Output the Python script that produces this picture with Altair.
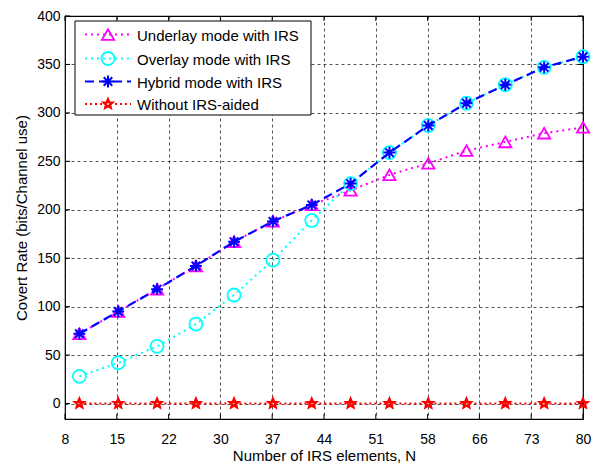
import math
import altair as alt
import pandas as pd

# ---- data ----
n_elements = [10, 15.4, 20.8, 26.2, 31.5, 36.9, 42.3, 47.7, 53.1, 58.5, 63.8, 69.2, 74.6, 80]
underlay = [72, 95, 118, 142, 167, 188, 205, 220, 236, 248, 261, 270, 279, 285]
overlay = [28, 42, 59, 82, 112, 148, 189, 227, 259, 287, 310, 329, 347, 358]
hybrid = [72, 95, 118, 142, 167, 188, 205, 227, 259, 287, 310, 329, 347, 358]
without_irs = [0, 0, 0, 0, 0, 0, 0, 0, 0, 0, 0, 0, 0, 0]

series_names = ["Underlay mode with IRS", "Overlay mode with IRS",
                "Hybrid mode with IRS", "Without IRS-aided"]
x_tick_values = [8, 15.2, 22.4, 29.6, 36.8, 44, 51.2, 58.4, 65.6, 72.8, 80]
y_tick_values = [0, 50, 100, 150, 200, 250, 300, 350, 400]

FONT = "Liberation Sans"
W, H = 518, 403
TL = 5  # inward tick length

# marker shapes
asterisk = "M-1,0L1,0M0,-1L0,1M-0.72,-0.72L0.72,0.72M-0.72,0.72L0.72,-0.72"
pts = []
for k in range(10):
    r = 1.0 if k % 2 == 0 else 0.45
    a = math.radians(-90 + 36 * k)
    pts.append(f"{r*math.cos(a):.3f},{r*math.sin(a):.3f}")
pentagram = "M" + "L".join(pts) + "Z"

styles = [
    dict(color="#FF00FF", dash=[2, 4], shape="triangle-up", size=150, sw=1.8, lw=2),
    dict(color="#00FFFF", dash=[2, 4], shape="circle", size=170, sw=1.8, lw=2),
    dict(color="#0000FF", dash=[9, 5], shape=asterisk, size=140, sw=2, lw=2.2),
    dict(color="#FF0000", dash=[2, 3], shape=pentagram, size=85, sw=2.4, lw=2),
]
values = [underlay, overlay, hybrid, without_irs]

xscale = alt.Scale(domain=[8, 80], nice=False, zero=False)
yscale = alt.Scale(domain=[-16, 400], nice=False, zero=False)

xaxis = alt.Axis(title="Number of IRS elements, N", values=x_tick_values,
                 labelExpr="format(round(datum.value), 'd')",
                 grid=True, gridDash=[3, 3], gridColor="#000000", gridOpacity=0.85,
                 gridWidth=0.8, ticks=False, domain=False, labelPadding=13,
                 labelFontSize=14, titleFontSize=15, titleFont=FONT, labelFont=FONT,
                 labelColor="#000000", titleColor="#000000", titleFontWeight="normal",
                 titlePadding=2, labelFlush=False)
yaxis = alt.Axis(title="Covert Rate (bits/Channel use)", values=y_tick_values,
                 grid=True, gridDash=[3, 3], gridColor="#000000", gridOpacity=0.85,
                 gridWidth=0.8, ticks=False, domain=False, labelPadding=5,
                 labelFontSize=14, titleFontSize=15, titleFont=FONT, labelFont=FONT,
                 labelColor="#000000", titleColor="#000000", titleFontWeight="normal",
                 titlePadding=7, labelFlush=False)

layers = []

# inward ticks on all four sides
xt = pd.DataFrame({"t": x_tick_values})
yt = pd.DataFrame({"t": y_tick_values})
for y0, y1 in [(0, TL), (H, H - TL)]:
    layers.append(alt.Chart(xt).mark_rule(color="black", strokeWidth=1).encode(
        x=alt.X("t:Q", scale=xscale, axis=xaxis), y=alt.value(y0), y2=alt.value(y1)))
for x0, x1 in [(0, TL), (W, W - TL)]:
    layers.append(alt.Chart(yt).mark_rule(color="black", strokeWidth=1).encode(
        y=alt.Y("t:Q", scale=yscale, axis=yaxis), x=alt.value(x0), x2=alt.value(x1)))

for i, (name, vals, st) in enumerate(zip(series_names, values, styles)):
    df = pd.DataFrame({"N": n_elements, "rate": vals, "series": name})
    base = alt.Chart(df).encode(
        x=alt.X("N:Q", scale=xscale, axis=xaxis),
        y=alt.Y("rate:Q", scale=yscale, axis=yaxis),
    )
    line = base.mark_line(color=st["color"], strokeDash=st["dash"],
                          strokeWidth=st["lw"], clip=True)
    point = base.mark_point(shape=st["shape"], size=st["size"], filled=False,
                            color=st["color"], strokeWidth=st["sw"], opacity=1)
    layers += [line, point]

# ---- legend box ----
one = pd.DataFrame({"a": [0]})
box = alt.Chart(one).mark_rect(fill="white", stroke="black", strokeWidth=1).encode(
    x=alt.value(10), x2=alt.value(246), y=alt.value(5), y2=alt.value(99))
layers.append(box)
leg_y = [18.5, 42.5, 65.5, 88]
for name, st, ly in zip(series_names, styles, leg_y):
    layers.append(alt.Chart(one).mark_rule(color=st["color"], strokeDash=st["dash"],
                                           strokeWidth=st["lw"]).encode(
        x=alt.value(20), x2=alt.value(66), y=alt.value(ly)))
    layers.append(alt.Chart(one).mark_point(shape=st["shape"], size=st["size"], filled=False,
                                            color=st["color"], strokeWidth=st["sw"],
                                            opacity=1).encode(
        x=alt.value(43), y=alt.value(ly)))
    layers.append(alt.Chart(one).mark_text(text=name, align="left", baseline="middle",
                                           font=FONT, fontSize=15, color="black").encode(
        x=alt.value(72), y=alt.value(ly + 1)))

chart = alt.layer(*layers).properties(
    width=W, height=H,
    autosize=alt.AutoSizeParams(type="none"),
    padding={"left": 57, "top": 8, "right": 9, "bottom": 45},
    background="white",
).configure_view(stroke="black", strokeWidth=1.2)

chart.save("out.html", embed_options={"renderer": "svg", "actions": False})
